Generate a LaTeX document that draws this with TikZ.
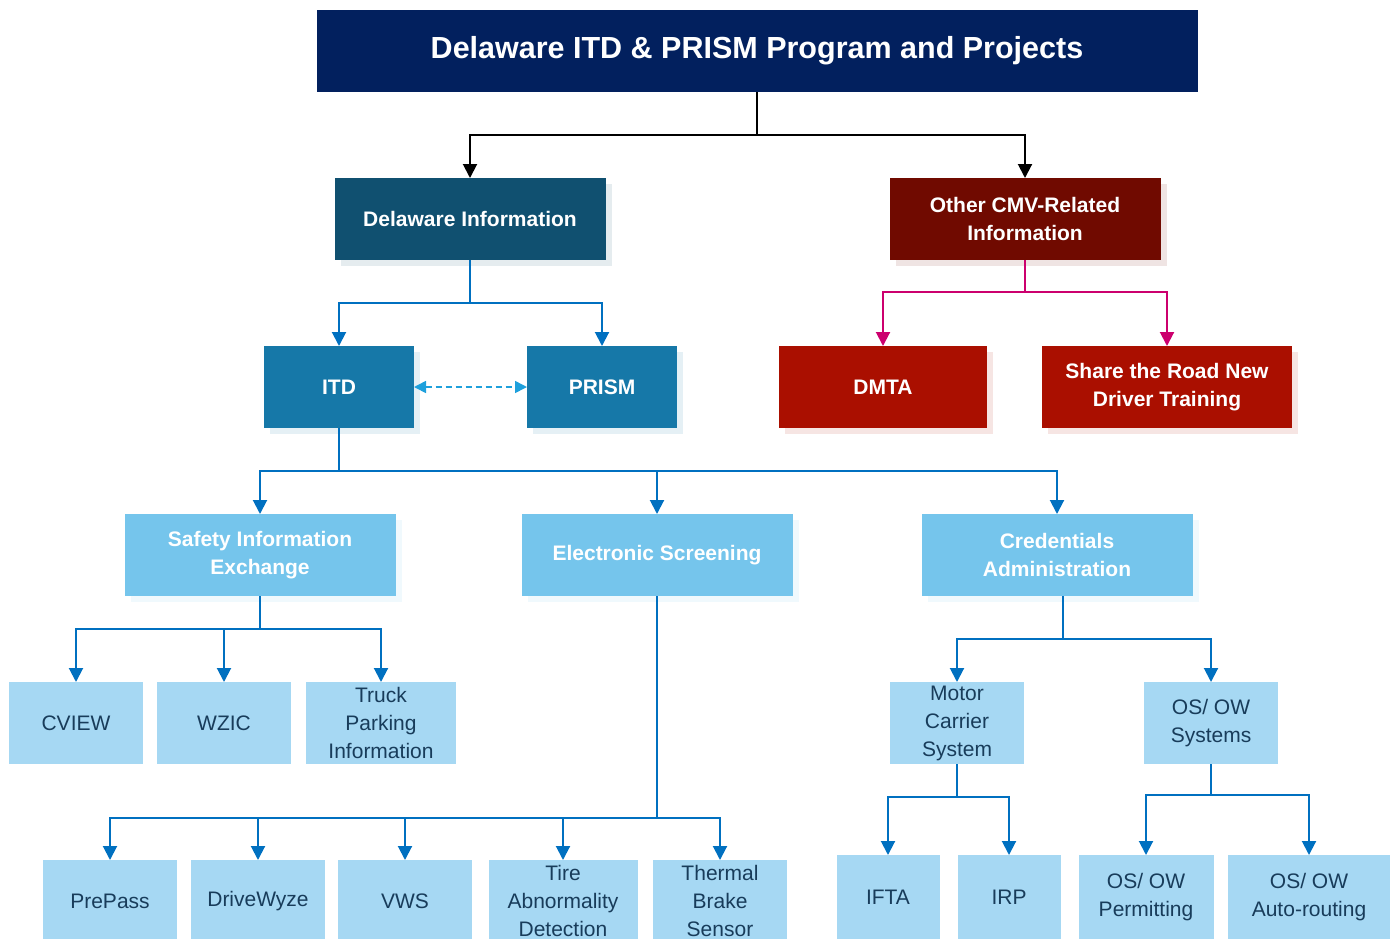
\documentclass[tikz,border=0pt]{standalone}
\usepackage{fontspec}
\setmainfont{Liberation Sans}
\usetikzlibrary{arrows.meta,shadows}
\definecolor{navyc}{RGB}{2,32,94}
\definecolor{deinfoc}{RGB}{16,80,112}
\definecolor{itdc}{RGB}{22,120,168}
\definecolor{maroonc}{RGB}{112,10,0}
\definecolor{redc}{RGB}{170,15,0}
\definecolor{midc}{RGB}{117,197,236}
\definecolor{leafc}{RGB}{166,216,243}
\definecolor{leaftxt}{RGB}{24,60,90}
\definecolor{bluec}{RGB}{0,112,192}
\definecolor{pinkc}{RGB}{204,0,110}
\definecolor{dashc}{RGB}{30,160,220}
\begin{document}
\begin{tikzpicture}[x=1pt,y=-1pt,
  box/.style={rectangle, inner sep=0pt, outer sep=0pt, align=center},
  hdr/.style={box, text=white, font=\fontsize{21}{28}\selectfont\bfseries},
  leaf/.style={box, fill=leafc, text=leaftxt, font=\fontsize{21}{28}\selectfont},
  shad/.style={drop shadow={shadow xshift=6pt, shadow yshift=-6pt, fill=#1, opacity=0.11}},
  wide/.style={minimum width=271pt, minimum height=82pt},
  conn/.style={line width=2pt, -{Triangle[width=14pt,length=14pt]}},
  kconn/.style={conn, draw=black},
  bconn/.style={conn, draw=bluec},
  pconn/.style={conn, draw=pinkc},
  dconn/.style={line width=1.6pt, draw=dashc, dash pattern=on 6pt off 4pt,
    {Triangle[width=12pt,length=12pt]}-{Triangle[width=12pt,length=12pt]}}
]
\useasboundingbox (0,0) rectangle (1390,938);
\clip (0,0) rectangle (1390,938);

% title
\node[box, fill=navyc, text=white, minimum width=881pt, minimum height=82pt,
  font=\fontsize{30.5}{36}\selectfont\bfseries] (title) at (757,51)
  {Delaware ITD \& PRISM Program and Projects};

% level 2
\node[hdr, wide, fill=deinfoc, shad=deinfoc] (deinfo) at (470,219) {Delaware Information};
\node[hdr, wide, fill=maroonc, shad=maroonc] (other) at (1025,219) {Other CMV-Related\\Information};

% level 3
\node[hdr, fill=itdc, shad=itdc, minimum width=150pt, minimum height=82pt] (itd) at (339,387) {ITD};
\node[hdr, fill=itdc, shad=itdc, minimum width=150pt, minimum height=82pt] (prism) at (602,387) {PRISM};
\node[hdr, fill=redc, shad=redc, minimum width=208pt, minimum height=82pt] (dmta) at (883,387) {DMTA};
\node[hdr, fill=redc, shad=redc, minimum width=250pt, minimum height=82pt] (share) at (1167,387) {Share the Road New\\Driver Training};

% level 4
\node[hdr, wide, fill=midc, shad=midc] (safety) at (260,555) {Safety Information\\Exchange};
\node[hdr, wide, fill=midc, shad=midc] (escreen) at (657,555) {Electronic Screening};
\node[hdr, wide, fill=midc, shad=midc] (cred) at (1057,555) {Credentials\\Administration};

% level 5
\node[leaf, minimum width=134pt, minimum height=82pt] (cview) at (76,723) {CVIEW};
\node[leaf, minimum width=134pt, minimum height=82pt] (wzic) at (224,723) {WZIC};
\node[leaf, minimum width=150pt, minimum height=82pt] (truck) at (381,723) {Truck\\Parking\\Information};
\node[leaf, minimum width=134pt, minimum height=82pt] (mcs) at (957,723) {Motor\\Carrier\\System};
\node[leaf, minimum width=134pt, minimum height=82pt] (osow) at (1211,723) {OS/ OW\\Systems};

% level 6
\node[leaf, minimum width=134pt, minimum height=82pt] (prepass) at (110,901) {PrePass};
\node[leaf, minimum width=134pt, minimum height=82pt] (drivewyze) at (258,901) {DriveWyze};
\node[leaf, minimum width=134pt, minimum height=82pt] (vws) at (405,901) {VWS};
\node[leaf, minimum width=149pt, minimum height=82pt] (tire) at (563,901) {Tire\\Abnormality\\Detection};
\node[leaf, minimum width=134pt, minimum height=82pt] (thermal) at (720,901) {Thermal\\Brake\\Sensor};
\node[leaf, minimum width=103pt, minimum height=84pt] (ifta) at (888,897) {IFTA};
\node[leaf, minimum width=103pt, minimum height=84pt] (irp) at (1009,897) {IRP};
\node[leaf, minimum width=135pt, minimum height=84pt] (permit) at (1146,897) {OS/ OW\\Permitting};
\node[leaf, minimum width=162pt, minimum height=84pt] (auto) at (1309,897) {OS/ OW\\Auto-routing};

% connectors
\draw[kconn] (title.south) -- ++(0,43) -| (deinfo.north);
\draw[kconn] (title.south) -- ++(0,43) -| (other.north);

\draw[bconn] (deinfo.south) -- ++(0,43) -| (itd.north);
\draw[bconn] (deinfo.south) -- ++(0,43) -| (prism.north);

\draw[pconn] (other.south) -- ++(0,32) -| (dmta.north);
\draw[pconn] (other.south) -- ++(0,32) -| (share.north);

\draw[dconn] (itd.east) -- (prism.west);

\draw[bconn] (itd.south) -- ++(0,43) -| (safety.north);
\draw[bconn] (itd.south) -- ++(0,43) -| (escreen.north);
\draw[bconn] (itd.south) -- ++(0,43) -| (cred.north);

\draw[bconn] (safety.south) -- ++(0,33) -| (cview.north);
\draw[bconn] (safety.south) -- ++(0,33) -| (wzic.north);
\draw[bconn] (safety.south) -- ++(0,33) -| (truck.north);

\draw[bconn] (escreen.south) -- ++(0,222) -| (prepass.north);
\draw[bconn] (escreen.south) -- ++(0,222) -| (drivewyze.north);
\draw[bconn] (escreen.south) -- ++(0,222) -| (vws.north);
\draw[bconn] (escreen.south) -- ++(0,222) -| (tire.north);
\draw[bconn] (escreen.south) -- ++(0,222) -| (thermal.north);

\draw[bconn] ([xshift=6pt]cred.south) -- ++(0,43) -| (mcs.north);
\draw[bconn] ([xshift=6pt]cred.south) -- ++(0,43) -| (osow.north);

\draw[bconn] (mcs.south) -- ++(0,33) -| (ifta.north);
\draw[bconn] (mcs.south) -- ++(0,33) -| (irp.north);

\draw[bconn] (osow.south) -- ++(0,31) -| (permit.north);
\draw[bconn] (osow.south) -- ++(0,31) -| (auto.north);
\end{tikzpicture}
\end{document}
